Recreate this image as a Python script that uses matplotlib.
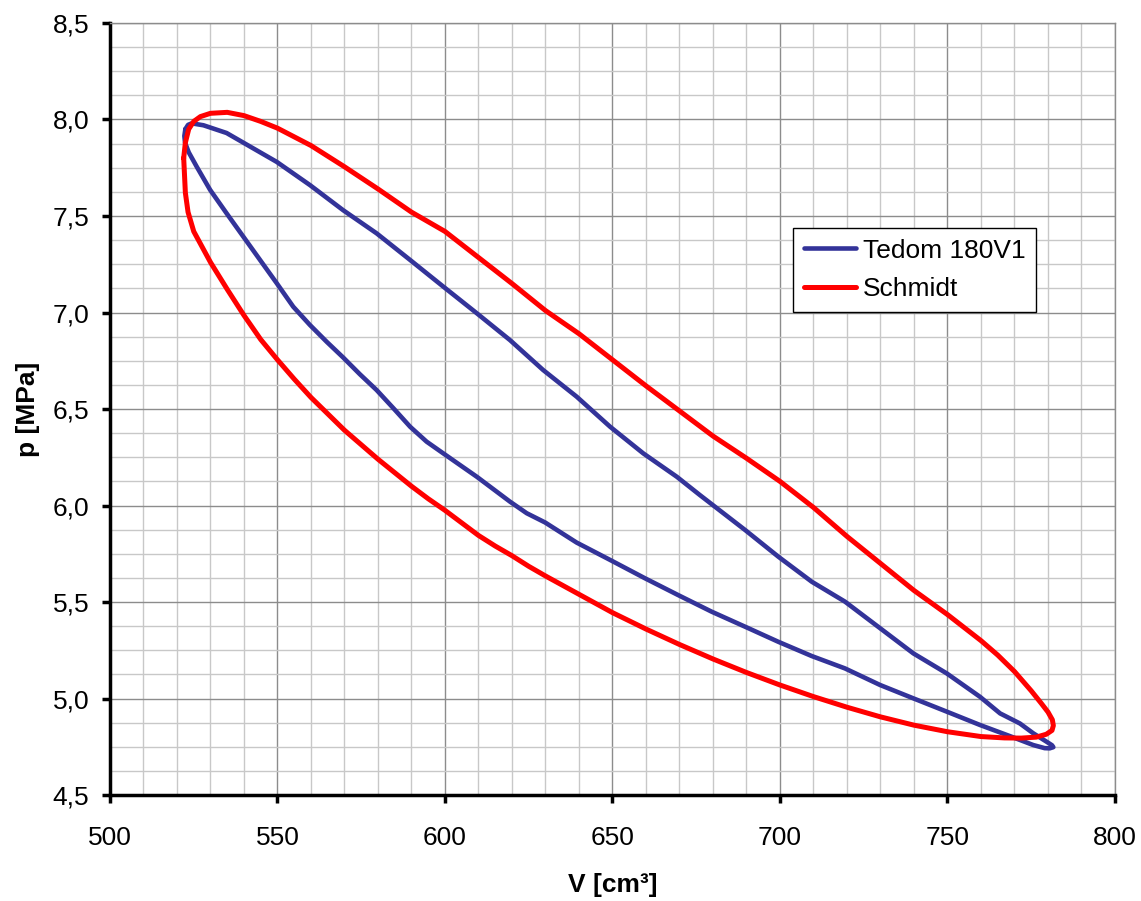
import matplotlib
matplotlib.use("Agg")
import matplotlib.pyplot as plt
from matplotlib.ticker import MultipleLocator, FuncFormatter

plt.rcParams["font.family"] = ["Liberation Sans", "DejaVu Sans"]

# Tedom 180V1 - measured loop (V in cm3, p in MPa)
tedom_v = [522.5, 523.3, 524.4, 527.9, 534.8, 542.8, 549.8, 559.7, 569.6, 579.6,
           589.6, 599.5, 609.5, 619.4, 629.3, 639.3, 649.3, 659.2, 669.2, 676.1,
           689.6, 699.5, 709.5, 719.4, 729.3, 739.8, 749.8, 759.7, 765.7, 771.6,
           775.6, 779.6, 781.2, 781.6, 780.5, 779.0, 775.6, 769.6, 759.7, 749.8,
           739.8, 729.9, 719.4, 709.5, 699.5, 689.6, 679.6, 669.6, 659.7, 649.3,
           639.3, 629.9, 624.4, 619.4, 609.5, 599.5, 594.5, 589.6, 584.6, 579.6,
           574.6, 569.6, 564.7, 559.7, 554.7, 549.8, 544.8, 539.8, 534.8, 529.9,
           525.9, 523.5, 522.4, 522.2, 522.5]
tedom_p = [7.950, 7.972, 7.980, 7.970, 7.930, 7.850, 7.780, 7.660, 7.530, 7.410,
           7.272, 7.134, 6.996, 6.857, 6.702, 6.564, 6.408, 6.270, 6.149, 6.054,
           5.873, 5.735, 5.605, 5.502, 5.372, 5.234, 5.130, 5.009, 4.923, 4.871,
           4.820, 4.776, 4.758, 4.748, 4.742, 4.743, 4.759, 4.799, 4.863, 4.932,
           5.001, 5.070, 5.156, 5.220, 5.294, 5.372, 5.450, 5.536, 5.623, 5.718,
           5.808, 5.912, 5.960, 6.020, 6.149, 6.270, 6.331, 6.408, 6.504, 6.598,
           6.680, 6.767, 6.848, 6.935, 7.030, 7.151, 7.272, 7.393, 7.514, 7.635,
           7.755, 7.830, 7.880, 7.915, 7.950]

# Schmidt - theoretical loop
schmidt_v = [522.0, 522.5, 523.5, 525.0, 527.0, 530.0, 535.0, 540.0, 545.0, 550.0,
             560.0, 570.0, 580.0, 590.0, 600.0, 610.0, 620.0, 630.0, 640.0, 650.0,
             660.0, 670.0, 680.0, 690.0, 700.0, 710.0, 720.0, 730.0, 740.0, 750.0,
             760.0, 765.0, 770.0, 775.0, 778.0, 780.0, 781.3, 781.6, 781.2, 779.5,
             776.5, 772.0, 767.0, 760.0, 750.0, 740.0, 730.0, 720.0, 710.0, 700.0,
             690.0, 680.0, 670.0, 660.0, 650.0, 640.0, 630.0, 625.0, 620.0, 615.0,
             610.0, 605.0, 600.0, 595.0, 590.0, 585.0, 580.0, 575.0, 570.0, 565.0,
             560.0, 555.0, 550.0, 545.0, 540.0, 535.0, 530.0, 527.5, 525.0, 523.3,
             522.5, 522.0]
schmidt_p = [7.800, 7.880, 7.950, 7.990, 8.015, 8.032, 8.037, 8.020, 7.990, 7.955,
             7.865, 7.755, 7.640, 7.520, 7.420, 7.285, 7.150, 7.010, 6.890, 6.755,
             6.620, 6.490, 6.360, 6.245, 6.125, 5.990, 5.840, 5.700, 5.560, 5.435,
             5.300, 5.225, 5.140, 5.040, 4.975, 4.930, 4.890, 4.860, 4.835, 4.815,
             4.800, 4.795, 4.796, 4.803, 4.828, 4.862, 4.905, 4.955, 5.010, 5.070,
             5.135, 5.205, 5.280, 5.360, 5.445, 5.540, 5.635, 5.685, 5.740, 5.790,
             5.845, 5.910, 5.975, 6.035, 6.100, 6.170, 6.240, 6.315, 6.390, 6.475,
             6.560, 6.655, 6.755, 6.860, 6.985, 7.120, 7.260, 7.340, 7.420, 7.520,
             7.620, 7.800]

fig = plt.figure(figsize=(11.41, 9.01), dpi=100)
ax = fig.add_axes([0.0964, 0.1176, 0.8808, 0.8569])

ax.plot(tedom_v, tedom_p, color="#333399", lw=3.3, label="Tedom 180V1",
        solid_joinstyle="round", solid_capstyle="round")
ax.plot(schmidt_v, schmidt_p, color="#FF0000", lw=3.6, label="Schmidt",
        solid_joinstyle="round", solid_capstyle="round")

ax.set_xlim(500, 800)
ax.set_ylim(4.5, 8.5)
ax.xaxis.set_major_locator(MultipleLocator(50))
ax.xaxis.set_minor_locator(MultipleLocator(10))
ax.yaxis.set_major_locator(MultipleLocator(0.5))
ax.yaxis.set_minor_locator(MultipleLocator(0.125))
ax.yaxis.set_major_formatter(FuncFormatter(lambda v, _: f"{v:.1f}".replace(".", ",")))

ax.grid(which="major", color="#8c8c8c", lw=1.0)
ax.grid(which="minor", color="#c8c8c8", lw=1.0)
ax.set_axisbelow(True)

for s in ["top", "right"]:
    ax.spines[s].set_color("#8c8c8c")
    ax.spines[s].set_linewidth(1.0)
for s in ["left", "bottom"]:
    ax.spines[s].set_color("black")
    ax.spines[s].set_linewidth(2.5)

ax.tick_params(which="major", direction="out", length=6, width=2.5, labelsize=19)
ax.tick_params(axis="x", which="major", pad=16)
ax.tick_params(axis="y", which="major", pad=9)
ax.tick_params(which="minor", length=0)

ax.set_xlabel("V [cm³]", fontsize=19, fontweight="bold", labelpad=17)
ax.set_ylabel("p [MPa]", fontsize=19, fontweight="bold", labelpad=9)

leg = ax.legend(loc="upper left", bbox_to_anchor=(0.6796, 0.7345), fontsize=19,
                frameon=True, fancybox=False, framealpha=1, edgecolor="black",
                handlelength=2.0, handletextpad=0.25, borderpad=0.4,
                borderaxespad=0, labelspacing=0.55)
leg.get_frame().set_linewidth(1.0)

fig.savefig("out.png", dpi=100)
